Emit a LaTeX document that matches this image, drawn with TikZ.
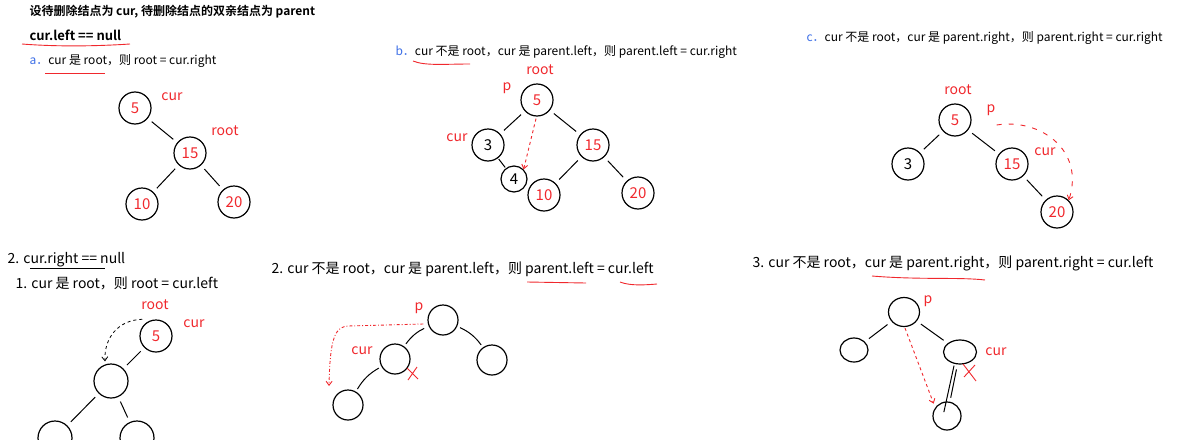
\documentclass[tikz,border=0pt]{standalone}
\usepackage{fontspec}
\setmainfont{Noto Sans CJK SC}[BoldFont={Noto Sans CJK SC Bold}]
\usetikzlibrary{arrows.meta, calc, shapes.geometric}
\definecolor{inkred}{RGB}{240,40,45}
\definecolor{inkblue}{RGB}{60,110,230}

\tikzset{
  tnode/.style={draw, circle, line width=1.2pt, minimum size=32pt, inner sep=0pt, text=inkred, font=\fontsize{15}{17}\selectfont},
  enode/.style={draw, ellipse, line width=1.2pt, inner sep=0pt},
  tag/.style={text=inkred, font=\fontsize{14}{16}\selectfont},
  small/.style={anchor=west, font=\fontsize{12}{14}\selectfont},
  large/.style={anchor=west, font=\fontsize{14}{16}\selectfont},
  link/.style={line width=1pt, shorten >=5pt, shorten <=5pt},
  stroke/.style={inkred, line width=0.9pt},
  redarrow/.style={inkred, line width=0.9pt, dashed, -{Straight Barb[length=4pt, width=6pt]}},
}

\begin{document}
\begin{tikzpicture}[x=1pt, y=-1pt]
  \useasboundingbox (0,0) rectangle (1190,439);
  \clip (0,0) rectangle (1190,439);

  % Titles
  \node[small, font=\fontsize{12}{14}\selectfont\bfseries] (title) at (26,12) {设待删除结点为 cur, 待删除结点的双亲结点为 parent};
  \node[small, font=\fontsize{13}{15}\selectfont\bfseries] (caseone) at (26,35) {cur.left == null};
  \node[small] (casea) at (26,61) {\textcolor{inkblue}{a．}cur 是 root，则 root = cur.right};
  \node[small] (caseb) at (392,52) {\textcolor{inkblue}{b．}cur 不是 root，cur 是 parent.left，则 parent.left = cur.right};
  \node[small] (casec) at (803,38) {\textcolor{inkblue}{c．}cur 不是 root，cur 是 parent.right，则 parent.right = cur.right};
  \node[large] (casetwo) at (4,260) {2. cur.right == null};
  \node[large] (casetwoa) at (12,283) {1. cur 是 root，则 root = cur.left};
  \node[large] (casetwob) at (268,269) {2. cur 不是 root，cur 是 parent.left，则 parent.left = cur.left};
  \node[large] (casetwoc) at (749,263) {3. cur 不是 root，cur 是 parent.right，则 parent.right = cur.left};

  % Underlines
  \draw[stroke] (22,44) .. controls (60,47) and (100,46) .. (130,44);
  \draw[stroke] (45,73) -- (105,73);
  \draw[stroke] (413,61) .. controls (425,66) and (445,64) .. (470,64);
  \draw[line width=0.7pt] (30,268) -- (105,268);
  \draw[stroke] (527,282) -- (586,283);
  \draw[stroke] (620,282) .. controls (630,286) and (645,285) .. (657,284);
  \draw[stroke] (872,276) .. controls (920,280) and (960,277) .. (985,280);

  % Tree a
  \node[tnode] (a5) at (135,108) {5};
  \node[tnode] (a15) at (190,153) {15};
  \node[tnode] (a10) at (142,204) {10};
  \node[tnode] (a20) at (234,202) {20};
  \node[tag] (acur) at (172,97) {cur};
  \node[tag] (aroot) at (225,131) {root};
  \draw[link] (a5) -- (a15);
  \draw[link] (a15) -- (a10);
  \draw[link] (a15) -- (a20);

  % Tree b
  \node[tnode] (b5) at (537,100) {5};
  \node[tnode, text=black] (b3) at (488,145) {3};
  \node[tnode] (b15) at (593,145) {15};
  \node[tnode, text=black, minimum size=26pt] (b4) at (514,179) {4};
  \node[tnode] (b10) at (544,195) {10};
  \node[tnode] (b20) at (638,193) {20};
  \node[tag] (broot) at (540,70) {root};
  \node[tag] (bp) at (507,88) {p};
  \node[tag] (bcur) at (457,138) {cur};
  \draw[link] (b5) -- (b3);
  \draw[link] (b5) -- (b15);
  \draw[link, shorten >=1pt, shorten <=1pt] (b3) -- (b4);
  \draw[link] (b15) -- (b10);
  \draw[link] (b15) -- (b20);
  \draw[redarrow] ($(b5.south)+(-1,2)$) -- (b4.north east);

  % Tree c
  \node[tnode] (c5) at (955,120) {5};
  \node[tnode, text=black] (c3) at (908,164) {3};
  \node[tnode] (c15) at (1012,164) {15};
  \node[tnode] (c20) at (1057,212) {20};
  \node[tag] (croot) at (958,90) {root};
  \node[tag] (cp) at (991,110) {p};
  \node[tag] (ccur) at (1045,152) {cur};
  \draw[link] (c5) -- (c3);
  \draw[link] (c5) -- (c15);
  \draw[link] (c15) -- (c20);
  \draw[redarrow, dash pattern=on 5pt off 7pt] ($(c5.east)+(25,5)$) .. controls (1040,118) and (1085,150) .. (c20.north east);

  % Tree 2.1
  \node[tnode] (r5) at (156,336) {5};
  \node[tnode, minimum size=34pt] (rn) at (111,381) {};
  \node[tnode, minimum size=34pt] (rl) at (55,438) {};
  \node[tnode, minimum size=34pt] (rr) at (137,438) {};
  \node[tag] (rroot) at (155,305) {root};
  \node[tag] (rcur) at (194,324) {cur};
  \draw[link] (r5) -- (rn);
  \draw[link] (rn) -- (rl);
  \draw[link] (rn) -- (rr);
  \draw[line width=0.8pt, dashed, -{Straight Barb[length=4pt, width=6pt]}] ($(r5.north west)+(-2,-5)$) .. controls (118,320) and (104,338) .. ($(rn.north)+(-6,-2)$);

  % Tree 2.2
  \node[tnode, minimum size=30pt] (lp) at (443,320) {};
  \node[tnode, minimum size=30pt] (lc) at (395,359) {};
  \node[tnode, minimum size=30pt] (lr) at (492,360) {};
  \node[tnode, minimum size=30pt] (lb) at (348,405) {};
  \node[tag] (lptag) at (419,308) {p};
  \node[tag] (lctag) at (362,351) {cur};
  \draw[link, shorten >=3pt, shorten <=5pt] (lp) to[bend right=15] (lc);
  \draw[link, shorten >=3pt, shorten <=3pt] (lp) to[bend left=15] (lr);
  \draw[link, shorten >=3pt, shorten <=3pt] (lc) to[bend right=15] (lb);
  \draw[stroke] (407,368) -- (418,379) (417,367) -- (408,380);
  \coordinate (lend) at (329,386);
  \draw[inkred, line width=0.9pt, dash dot, -{Straight Barb[length=4pt, width=6pt]}] ($(lp.west)+(-4,4)$) -- (348,326) .. controls (336,327) and (330,335) .. (lend);

  % Tree 2.3
  \node[enode, minimum width=31pt, minimum height=29pt] (tp) at (904,312) {};
  \node[enode, minimum width=28pt, minimum height=24pt] (tl) at (854,350) {};
  \node[enode, minimum width=33pt, minimum height=24pt] (tc) at (960,352) {};
  \node[enode, minimum width=28pt, minimum height=28pt] (tb) at (947,416) {};
  \node[tag] (tptag) at (928,301) {p};
  \node[tag] (tctag) at (996,352) {cur};
  \draw[link] (tp) -- (tl);
  \draw[link] (tp) -- (tc);
  \draw[link, shorten >=4pt] (tc) -- (tb);
  \draw[link, shorten >=4pt, shorten <=14pt] ($(tc)+(-3,0)$) -- ($(tb)+(-4,0)$);
  \draw[stroke] (963,364) -- (976,381) (975,365) -- (964,377);
  \draw[redarrow] ($(tp.south)+(1,1)$) -- ($(tb.north west)+(-3,-2)$);
\end{tikzpicture}
\end{document}
